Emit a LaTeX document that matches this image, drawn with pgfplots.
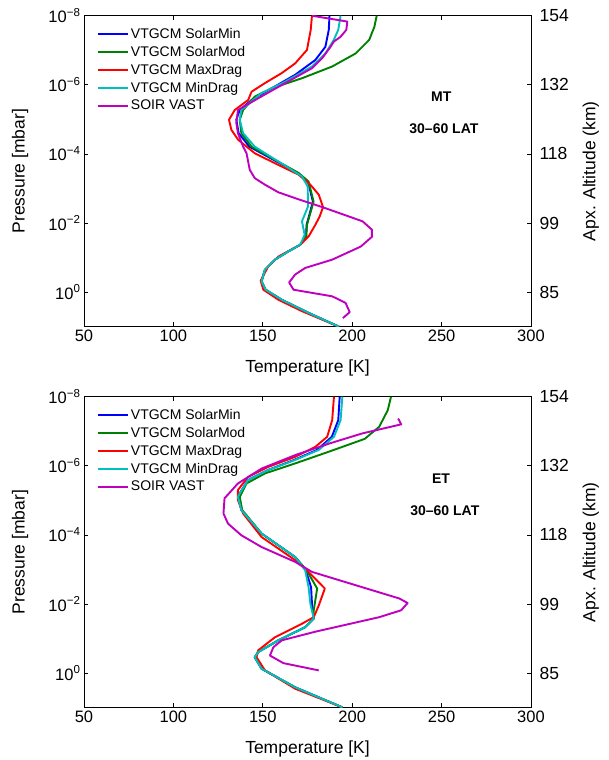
\documentclass[border=0pt]{standalone}
\usepackage{fontspec}
\setmainfont{Liberation Sans}
\usepackage{pgfplots}
\pgfplotsset{compat=1.18}

\definecolor{mblue}{rgb}{0,0,1}
\definecolor{mgreen}{rgb}{0,0.5,0}
\definecolor{mred}{rgb}{1,0,0}
\definecolor{mcyan}{rgb}{0,0.75,0.75}
\definecolor{mmag}{rgb}{0.75,0,0.75}

\tikzset{note/.style={font=\bfseries\fontsize{14}{16}\selectfont}}

% y values are log10 of pressure in mbar
\pgfplotsset{
  panel/.style={
    width=447pt, height=311pt, scale only axis,
    xmin=50, xmax=300, ymin=-8, ymax=1, y dir=reverse,
    xtick={50,100,150,200,250,300},
    xticklabels={50,100,150,200,250,300},
    ytick={-8,-6,-4,-2,0},
    yticklabels={10\textsuperscript{−8},10\textsuperscript{−6},10\textsuperscript{−4},10\textsuperscript{−2},10\textsuperscript{0}},
    ytick pos=left, xtick pos=both, tick align=inside,
    axis line style={line width=0.9pt}, major tick style={line width=0.8pt, black},
    tick label style={font=\fontsize{16.5}{18}\selectfont},
    label style={font=\fontsize{17.5}{20}\selectfont},
    xlabel={Temperature [K]}, ylabel={Pressure [mbar]},
    xlabel style={at={(axis description cs:0.5,-0.132)}, anchor=center},
    ylabel style={at={(axis description cs:-0.143,0.5)}, anchor=center},
    legend style={at={(axis description cs:0.022,0.972)}, anchor=north west,
      draw=none, fill=none, font=\fontsize{14}{16}\selectfont,
      row sep=2.3pt, cells={anchor=west}},
    legend image code/.code={\draw[#1, line width=1.9pt] (0pt,0pt) -- (30pt,0pt);},
    every axis plot/.append style={line width=1.9pt, line join=round},
  },
  altax/.style={
    width=447pt, height=311pt, scale only axis,
    xmin=50, xmax=300, ymin=-8, ymax=1, y dir=reverse,
    axis x line=none, axis y line*=right,
    ytick={-8,-6,-4,-2,0}, yticklabels={154,132,118,99,85},
    tick align=inside,
    axis line style={line width=0.9pt}, major tick style={line width=0.8pt, black},
    tick label style={font=\fontsize{17.5}{19}\selectfont},
    yticklabel style={xshift=5pt},
    label style={font=\fontsize{17.5}{20}\selectfont},
    ylabel={Apx. Altitude (km)},
    ylabel style={at={(axis description cs:1.134,0.5)}, anchor=center},
  },
}

\begin{document}
\begin{tikzpicture}
\useasboundingbox (0,0) rectangle (608pt,-760pt);

% ---------------- MT panel ----------------
\begin{axis}[panel, at={(84pt,-326.7pt)}, anchor=south west]
\addplot[mblue] coordinates {
(187.3,-8)(186.9,-7.59)(185,-7.10)(179.4,-6.72)(168.1,-6.29)(155,-5.90)(143.7,-5.56)
(137.1,-5.27)(135.2,-4.99)(136.5,-4.60)(142.5,-4.21)(156,-3.83)(169.5,-3.45)(175.3,-3.20)
(178,-2.62)(176.3,-2.29)(174.5,-1.95)(174.2,-1.61)(170.9,-1.37)(164.3,-1.18)(156.8,-0.94)
(151.2,-0.65)(149.3,-0.31)(151.6,-0.07)(160.6,0.22)(175.6,0.60)(192.6,1.0)};
\addlegendentry{VTGCM SolarMin}
\addplot[mgreen] coordinates {
(213.7,-8)(212.4,-7.68)(209.5,-7.30)(202,-6.91)(188.8,-6.53)(171.9,-6.19)(155,-5.90)
(145.5,-5.66)(139,-5.27)(137.1,-4.99)(138,-4.60)(143.7,-4.21)(156.8,-3.83)(170,-3.45)
(175.6,-3.20)(178.4,-2.62)(176.6,-2.29)(174.7,-1.95)(174.3,-1.61)(170.9,-1.37)(164.3,-1.18)
(156.8,-0.94)(151.2,-0.65)(149.3,-0.31)(151.6,-0.07)(160.6,0.22)(175.6,0.60)(192.6,1.0)};
\addlegendentry{VTGCM SolarMod}
\addplot[mred] coordinates {
(177.5,-8.0)(176.8,-7.59)(174.7,-7.01)(168.1,-6.62)(160.6,-6.34)(151.2,-6.05)(143.7,-5.80)
(141.8,-5.56)(134.3,-5.27)(131.1,-4.99)(132.4,-4.70)(136.2,-4.41)(145.5,-4.02)(156.8,-3.73)
(170,-3.40)(176.6,-3.11)(181.3,-2.82)(183.7,-2.46)(181.8,-2.19)(179.4,-1.95)(175.6,-1.61)
(170.9,-1.37)(158.7,-1.03)(153.1,-0.75)(148.8,-0.33)(150.3,-0.07)(158.7,0.22)(171.9,0.55)
(192.6,1.0)};
\addlegendentry{VTGCM MaxDrag}
\addplot[mcyan] coordinates {
(193.5,-8)(192.2,-7.59)(189.7,-7.30)(185,-6.91)(177.5,-6.53)(162.5,-6.09)(149.3,-5.76)
(138,-5.27)(137.1,-4.99)(139,-4.60)(145.5,-4.21)(158.7,-3.78)(171.9,-3.35)(175.1,-3.06)
(175.3,-2.48)(171.9,-2.05)(173.4,-1.66)(170.9,-1.37)(164.3,-1.18)(156.8,-0.94)(151.2,-0.65)
(149.3,-0.31)(151.6,-0.07)(160.6,0.22)(175.6,0.60)(192.6,1.0)};
\addlegendentry{VTGCM MinDrag}
\addplot[mmag] coordinates {
(177.5,-8.0)(197.3,-7.83)(196.7,-7.59)(193.5,-7.39)(189.7,-7.25)(187.9,-7.10)(183.2,-6.77)
(177.5,-6.48)(162.5,-6.05)(147.4,-5.61)(136.1,-5.27)(135.2,-4.89)(136.1,-4.60)(139,-4.21)
(140.9,-4.02)(142.7,-3.54)(145.5,-3.30)(151.2,-3.11)(158.7,-2.89)(168.1,-2.72)(185,-2.43)
(205.8,-2.05)(211,-1.81)(211,-1.60)(204.8,-1.32)(188.8,-0.94)(173.7,-0.70)(168.1,-0.51)
(164.7,-0.28)(167.2,-0.07)(188.8,0.12)(196.3,0.31)(198.6,0.58)(194.8,0.75)};
\addlegendentry{SOIR VAST}
\node[note] at (axis cs:249.8,-5.66) {MT};
\node[note] at (axis cs:251.3,-4.74) {30–60 LAT};
\end{axis}
\begin{axis}[altax, at={(84pt,-326.7pt)}, anchor=south west]
\end{axis}

% ---------------- ET panel ----------------
\begin{axis}[panel, at={(84pt,-707.7pt)}, anchor=south west]
\addplot[mblue] coordinates {
(193.0,-8)(192.2,-7.32)(188.6,-6.84)(180.3,-6.46)(167.5,-6.17)(153,-5.88)(141.8,-5.59)
(137,-5.20)(136.1,-5.10)(138,-4.72)(149.3,-4.04)(168.1,-3.36)(174,-2.98)(177,-2.49)
(177.5,-2.01)(178.5,-1.58)(173.7,-1.33)(158.7,-0.95)(147.4,-0.61)(145.5,-0.46)(149.3,-0.13)
(168.1,0.41)(194.5,0.99)};
\addlegendentry{VTGCM SolarMin}
\addplot[mgreen] coordinates {
(221.7,-8)(219.9,-7.61)(215.1,-7.13)(207,-6.78)(187,-6.41)(168.1,-6.07)(151.2,-5.78)
(140.9,-5.49)(137.1,-5.10)(138.5,-4.72)(149.3,-4.04)(168.1,-3.36)(174.5,-2.98)(180.4,-2.45)
(178.5,-1.82)(178.5,-1.58)(173.7,-1.33)(158.7,-0.95)(147.4,-0.61)(145.5,-0.46)(149.3,-0.13)
(168.1,0.41)(194.5,0.99)};
\addlegendentry{VTGCM SolarMod}
\addplot[mred] coordinates {
(189.8,-8)(188.8,-7.32)(186,-6.84)(179.4,-6.55)(168.1,-6.26)(153.1,-5.97)(141.8,-5.68)
(136.1,-5.30)(136.1,-5.01)(139,-4.62)(149.3,-3.94)(168.1,-3.27)(175.6,-2.93)(184.7,-2.45)
(181.3,-1.96)(178.5,-1.62)(171.9,-1.43)(156.8,-1.04)(147.4,-0.66)(146.5,-0.46)(151.2,-0.08)
(168.1,0.45)(194.5,0.99)};
\addlegendentry{VTGCM MaxDrag}
\addplot[mcyan] coordinates {
(194.5,-8)(193.5,-7.32)(189.8,-6.84)(181.3,-6.46)(168.1,-6.17)(153.1,-5.88)(141.8,-5.59)
(137.1,-5.20)(136.1,-5.10)(138,-4.72)(149.3,-4.04)(168.1,-3.36)(173.7,-2.98)(175.6,-2.49)
(176.6,-2.01)(178.5,-1.58)(173.7,-1.33)(158.7,-0.95)(147.4,-0.61)(145.5,-0.46)(149.3,-0.13)
(168.1,0.41)(194.5,0.99)};
\addlegendentry{VTGCM MinDrag}
\addplot[mmag] coordinates {
(225.7,-7.37)(227.4,-7.20)(205.8,-6.94)(187.5,-6.65)(168.1,-6.31)(149.3,-5.92)(136.1,-5.49)
(128.6,-5.06)(128,-4.62)(130.5,-4.33)(138,-3.99)(149.3,-3.65)(168.1,-3.22)(177.5,-2.93)
(226.4,-2.16)(231,-2.03)(227.4,-1.82)(215.1,-1.62)(179.4,-1.20)(160.6,-0.95)
(155.9,-0.75)(154,-0.51)(161.5,-0.29)(181.3,-0.08)};
\addlegendentry{SOIR VAST}
\node[note] at (axis cs:249.7,-5.62) {ET};
\node[note] at (axis cs:251.8,-4.70) {30–60 LAT};
\end{axis}
\begin{axis}[altax, at={(84pt,-707.7pt)}, anchor=south west]
\end{axis}
\end{tikzpicture}
\end{document}
